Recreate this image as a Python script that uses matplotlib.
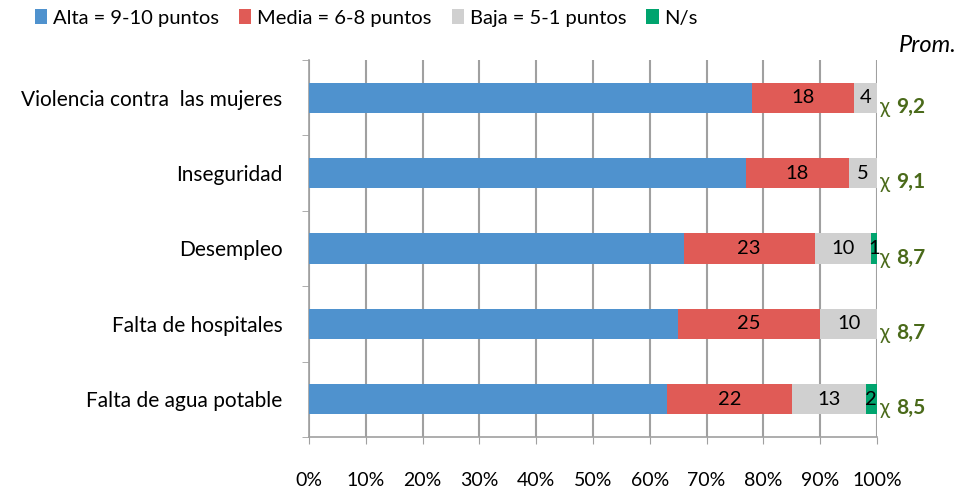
import matplotlib
matplotlib.use("Agg")
import matplotlib.pyplot as plt
import numpy as np

plt.rcParams['font.family'] = ['Lato', 'DejaVu Sans']

categories = ["Violencia contra  las mujeres", "Inseguridad", "Desempleo",
              "Falta de hospitales", "Falta de agua potable"]
alta = [78, 77, 66, 65, 63]
media = [18, 18, 23, 25, 22]
baja = [4, 5, 10, 10, 13]
ns = [0, 0, 1, 0, 2]
promedio = ["9,2", "9,1", "8,7", "8,7", "8,5"]

series_names = ["Alta = 9-10 puntos", "Media = 6-8 puntos", "Baja = 5-1 puntos", "N/s"]
colors = ["#4F92CE", "#E05B56", "#D0D0D0", "#00A46E"]

fig = plt.figure(figsize=(9.59, 4.91), dpi=100)
ax = fig.add_axes([309 / 959, 1 - 437 / 491, 568 / 959, 377 / 491])

y = np.arange(len(categories))
left = np.zeros(len(categories))
handles = []
for k, vals in enumerate([alta, media, baja, ns]):
    vals = np.array(vals, dtype=float)
    h = ax.barh(y, vals, left=left, height=0.4, color=colors[k], zorder=3,
                label=series_names[k])
    handles.append(h)
    if k > 0:
        for i, v in enumerate(vals):
            if v > 0:
                ax.text(left[i] + v / 2, y[i], str(int(v)), ha="center", va="center",
                        fontsize=14.5, color="black", zorder=4)
    left += vals

ax.set_xlim(0, 100)
ax.set_ylim(len(categories) - 0.5, -0.5)
ax.set_xticks(np.arange(0, 101, 10))
ax.set_xticklabels([f"{v}%" for v in range(0, 101, 10)], fontsize=14)
ax.tick_params(axis="x", length=5, color="#A0A0A0", pad=20)
ax.set_yticks(y)
ax.set_yticklabels(categories, fontsize=15)
ax.tick_params(axis="y", length=0, pad=19)
ax.set_yticks(np.arange(-0.5, len(categories), 1), minor=True)
ax.tick_params(axis="y", which="minor", length=5, color="#A0A0A0")
ax.grid(axis="x", color="#A0A0A0", linewidth=1.5, zorder=0)
for s in ["top", "right"]:
    ax.spines[s].set_visible(False)
for s in ["left", "bottom"]:
    ax.spines[s].set_color("#A0A0A0")
    ax.spines[s].set_linewidth(1.2)

for i, p in enumerate(promedio):
    ax.annotate("\u03c7", xy=(100, y[i] + 0.12), xytext=(2, 0), textcoords="offset points",
                ha="left", va="center", fontsize=15, color="#4A6A1A",
                annotation_clip=False)
    ax.annotate(p, xy=(100, y[i] + 0.12), xytext=(14, 0), textcoords="offset points",
                ha="left", va="center", fontsize=15, fontweight="bold", color="#4A6A1A",
                annotation_clip=False)

fig.text(0.997, 1 - 46 / 491, "Prom.", ha="right", va="center", fontsize=17,
         style="italic", color="black")

fig.legend(handles=handles, labels=series_names, loc="center", ncol=4,
           bbox_to_anchor=(0.382, 1 - 18 / 491), frameon=False, fontsize=14.5,
           handlelength=0.6, handleheight=0.7, handletextpad=0.3, columnspacing=1.0)

fig.savefig("out.png", dpi=100)
